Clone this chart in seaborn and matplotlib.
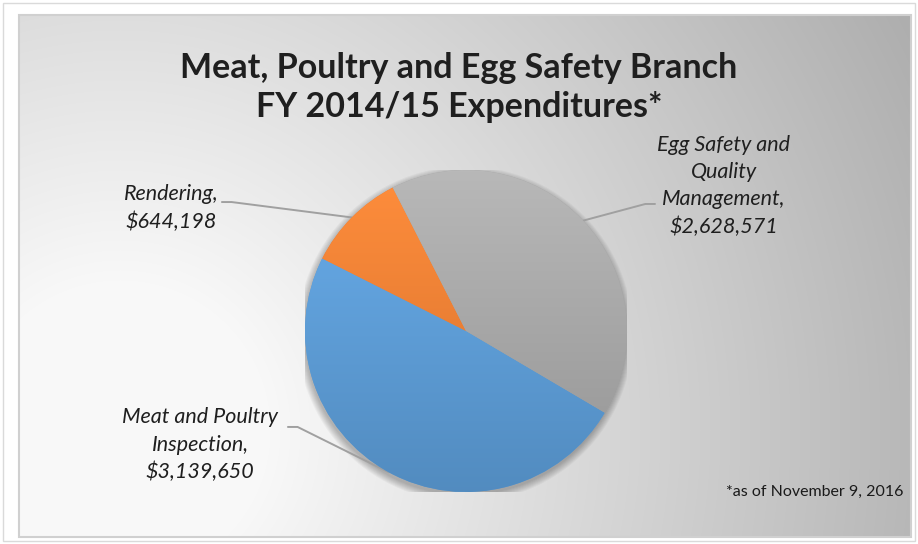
import numpy as np
import matplotlib
matplotlib.use("Agg")
import matplotlib.pyplot as plt
import seaborn as sns
from matplotlib.colors import to_rgb
from matplotlib.patches import Circle, Rectangle

# ---- data ----
categories = ["Meat and Poultry\nInspection", "Rendering", "Egg Safety and\nQuality\nManagement"]
values = [3139650, 644198, 2628571]
title_lines = ["Meat, Poultry and Egg Safety Branch", "FY 2014/15 Expenditures*"]
footnote = "*as of November 9, 2016"

sns.set_theme(style="white")
plt.rcParams['font.family'] = ['Lato', 'DejaVu Sans']
palette = sns.color_palette(["#5B9BD5", "#ED7D31", "#A5A5A5"])

W, H = 918, 544
fig = plt.figure(figsize=(W / 100, H / 100), dpi=100)
fig.patch.set_facecolor("white")

# ---- background gradient panel ----
bx0, by0, bx1, by1 = 19, 15, 911, 537
bg = fig.add_axes([bx0 / W, 1 - by1 / H, (bx1 - bx0) / W, (by1 - by0) / H])
X, Y = np.meshgrid(np.arange(bx0, bx1), np.arange(by0, by1))
R = np.hypot(X - 120, Y - 430)
V = np.clip(248 - 0.1 * np.clip(R - 150, 0, None), 160, 248) / 255
bg.imshow(np.dstack([V, V, V]), aspect="auto", extent=(0, 1, 0, 1), origin="upper")
bg.axis("off")
fig.add_artist(Rectangle((bx0 / W, 1 - by1 / H), (bx1 - bx0) / W, (by1 - by0) / H,
                         fill=False, edgecolor="#d0d0d0", lw=1.5, transform=fig.transFigure))
fig.add_artist(Rectangle((3 / W, 3 / H), 912 / W, 538 / H,
                         fill=False, edgecolor="#dadada", lw=1.0, transform=fig.transFigure))

# ---- pie ----
cx, cy, r = 466, 331, 161
ax = fig.add_axes([(cx - r) / W, (H - cy - r) / H, 2 * r / W, 2 * r / H])
ax.set_facecolor("none")
wedges, _ = ax.pie(values, colors=palette, startangle=90 - 120.5, counterclock=False,
                   radius=1, wedgeprops=dict(linewidth=0))

# soft shadow
for i in range(8):
    ax.add_patch(Circle((-0.005, -0.02), 1.0 + 0.006 * i, color="black",
                        alpha=0.035, zorder=0.5, lw=0))

# wedge gradients
grad = np.linspace(0, 1, 256)[:, None, None]
for w, c in zip(wedges, palette):
    base = np.array(to_rgb(c))
    top = np.clip(base * 1.07 + 0.03, 0, 1)
    bot = base * 0.9
    img = top[None, None, :] * (1 - grad) + bot[None, None, :] * grad
    im = ax.imshow(img, extent=(-1, 1, -1, 1), origin="upper", aspect="auto",
                   zorder=w.get_zorder() + 0.1)
    im.set_clip_path(w)

ax.set_xlim(-1, 1)
ax.set_ylim(-1, 1)
ax.axis("off")

# ---- labels with leader lines ----
label_pos = [(-1.652, -0.708), (-1.832, 0.764), (1.602, 0.90)]
line_ends = [(-1.106, -0.596), (-1.516, 0.801), (1.174, 0.789)]
for w, cat, val, (tx, ty), (ex, ey) in zip(wedges, categories, values, label_pos, line_ends):
    mid = np.deg2rad((w.theta1 + w.theta2) / 2)
    px, py = np.cos(mid), np.sin(mid)
    elbow_x = ex + (0.06 if px > ex else -0.06)
    ax.plot([px, elbow_x, ex], [py, ey, ey], color="#a0a0a0", lw=1.4, clip_on=False,
            zorder=0.8, solid_capstyle="round")
    ax.text(tx, ty, f"{cat},\n${val:,}", ha="center", va="center", fontsize=15.5,
            style="italic", color="#1f1f1f", linespacing=1.45, clip_on=False)

# ---- titles ----
fig.text(459 / W, 1 - 68 / H, title_lines[0], ha="center", va="center",
         fontsize=24.5, fontweight="bold", color="#1f1f1f")
fig.text(459 / W, 1 - 107 / H, title_lines[1], ha="center", va="center",
         fontsize=24.5, fontweight="bold", color="#1f1f1f")
fig.text(903 / W, 1 - 492 / H, footnote, ha="right", va="center",
         fontsize=11.5, color="#1a1a1a")

fig.savefig("out.png", dpi=100)
